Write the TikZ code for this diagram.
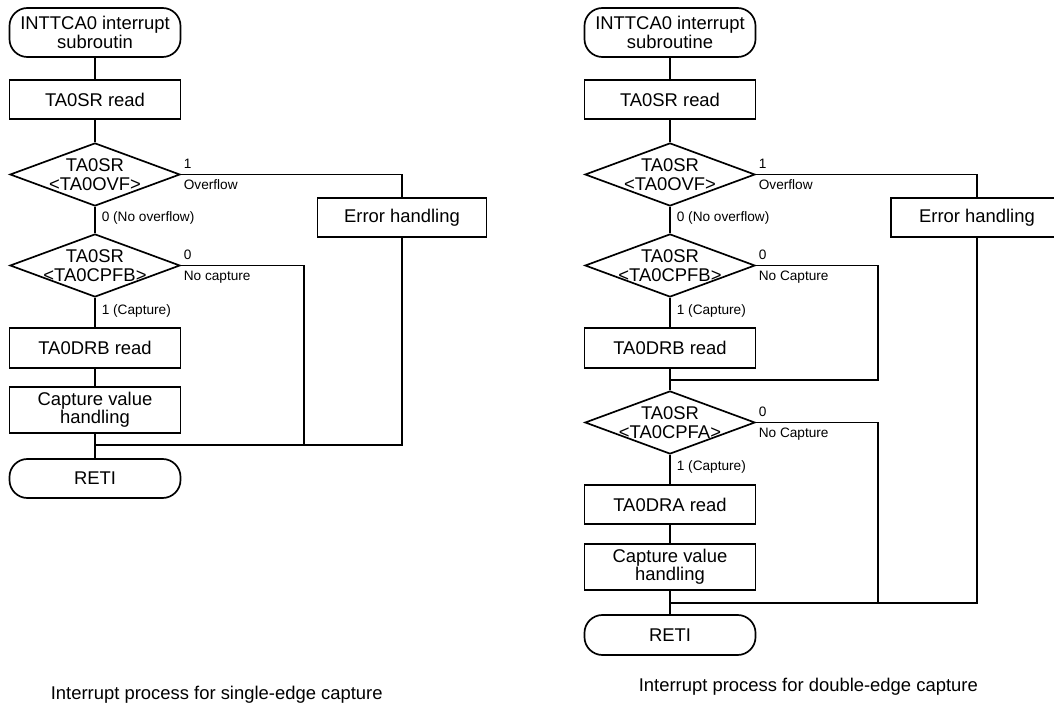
\documentclass[tikz,border=0pt]{standalone}
\usepackage{fontspec}
\setmainfont{Liberation Sans}
\usetikzlibrary{shapes.geometric}

\newcommand{\mainf}{\fontsize{13.1}{13}\selectfont}
\newcommand{\smallf}{\fontsize{9.7}{11}\selectfont}
% two-line text inside a decision, kept out of the diamond size
\newcommand{\dtxt}[2]{\smash{\raisebox{-5pt}{\makebox[0pt]{%
\begin{tabular}{@{}c@{}}#1\\#2\end{tabular}}}}}

\begin{document}
\begin{tikzpicture}[
      x=0.025cm, y=-0.025cm, line width=1.2pt, font=\mainf,
      term/.style={draw, rounded corners=0.45cm, minimum width=4.275cm,
      align=center, inner sep=0pt},
      proc/.style={draw, rectangle, minimum width=4.275cm,
      minimum height=0.975cm, align=center, inner sep=0pt},
      dec/.style={draw, diamond, minimum width=4.25cm,
      minimum height=1.575cm, inner sep=0pt},
      lbl/.style={font=\smallf, anchor=base west, inner sep=0pt},
      capt/.style={font=\mainf, anchor=base west, inner sep=0pt}
    ]
    \clip (0,0) rectangle (1054,708);

    % Single-edge capture
    \node[term, minimum height=1.225cm] (s1) at (95,32.5)
    {INTTCA0 interrupt\\subroutin};
    \node[proc] (rd1) at (95,99.5) {TA0SR read};
    \node[dec] (ovf1) at (95,174.5) {\dtxt{TA0SR}{<TA0OVF>}};
    \node[dec] (cpb1) at (95,265.5) {\dtxt{TA0SR}{<TA0CPFB>}};
    \node[proc, minimum height=1cm] (drb1) at (95,348) {TA0DRB read};
    \node[proc, minimum height=1.15cm] (hd1) at (95,410)
    {Capture value\\handling};
    \node[term, minimum height=0.975cm] (ret1) at (95,478.5) {RETI};
    \node[proc, minimum width=4.225cm] (err1) at (402,217.5)
    {Error handling};
    \coordinate (j1) at (95,445);
    \coordinate (nc1) at (304,445);

    \draw (s1) -- (rd1);
    \draw (rd1) -- (ovf1);
    \draw (ovf1) -- (cpb1);
    \draw (cpb1) -- (drb1);
    \draw (drb1) -- (hd1);
    \draw (hd1) -- (ret1);
    \draw (ovf1.east) -| (err1.north);
    \draw (cpb1.east) -| (nc1);
    \draw (err1.south) |- (j1);

    \node[lbl] (l1a) at (183,168.5) {1};
    \node[lbl] (l1b) at (183,189.5) {Overflow};
    \node[lbl] (l1c) at (101,222) {0 (No overflow)};
    \node[lbl] (l1d) at (183,259.5) {0};
    \node[lbl] (l1e) at (183,280.5) {No capture};
    \node[lbl] (l1f) at (101,315) {1 (Capture)};

    % Double-edge capture
    \node[term, minimum height=1.225cm] (s2) at (670,32.5)
    {INTTCA0 interrupt\\subroutine};
    \node[proc] (rd2) at (670,99.5) {TA0SR read};
    \node[dec] (ovf2) at (670,174.5) {\dtxt{TA0SR}{<TA0OVF>}};
    \node[dec] (cpb2) at (670,265.5) {\dtxt{TA0SR}{<TA0CPFB>}};
    \node[proc, minimum height=1cm] (drb2) at (670,348) {TA0DRB read};
    \node[dec] (cpa2) at (670,422.5) {\dtxt{TA0SR}{<TA0CPFA>}};
    \node[proc] (dra2) at (670,504.5) {TA0DRA read};
    \node[proc, minimum height=1.15cm] (hd2) at (670,567)
    {Capture value\\handling};
    \node[term, minimum height=1cm] (ret2) at (670,635) {RETI};
    \node[proc, minimum width=4.3cm] (err2) at (977,217.5)
    {Error handling};
    \coordinate (j2a) at (670,380);
    \coordinate (nc2a) at (878,380);
    \coordinate (j2b) at (670,603);
    \coordinate (nc2b) at (878,603);

    \draw (s2) -- (rd2);
    \draw (rd2) -- (ovf2);
    \draw (ovf2) -- (cpb2);
    \draw (cpb2) -- (drb2);
    \draw (drb2) -- (cpa2);
    \draw (cpa2) -- (dra2);
    \draw (dra2) -- (hd2);
    \draw (hd2) -- (ret2);
    \draw (ovf2.east) -| (err2.north);
    \draw (cpb2.east) -| (nc2a) -- (j2a);
    \draw (cpa2.east) -| (nc2b);
    \draw (err2.south) |- (j2b);

    \node[lbl] (l2a) at (758,168.5) {1};
    \node[lbl] (l2b) at (758,189.5) {Overflow};
    \node[lbl] (l2c) at (676,222) {0 (No overflow)};
    \node[lbl] (l2d) at (758,259.5) {0};
    \node[lbl] (l2e) at (758,280.5) {No Capture};
    \node[lbl] (l2f) at (676,315) {1 (Capture)};
    \node[lbl] (l2g) at (758,416.5) {0};
    \node[lbl] (l2h) at (758,437.5) {No Capture};
    \node[lbl] (l2i) at (676,471) {1 (Capture)};

    % Captions
    \node[capt] (c1) at (50,699) {Interrupt process for single-edge capture};
    \node[capt] (c2) at (638,691) {Interrupt process for double-edge capture};

  \end{tikzpicture}
\end{document}
